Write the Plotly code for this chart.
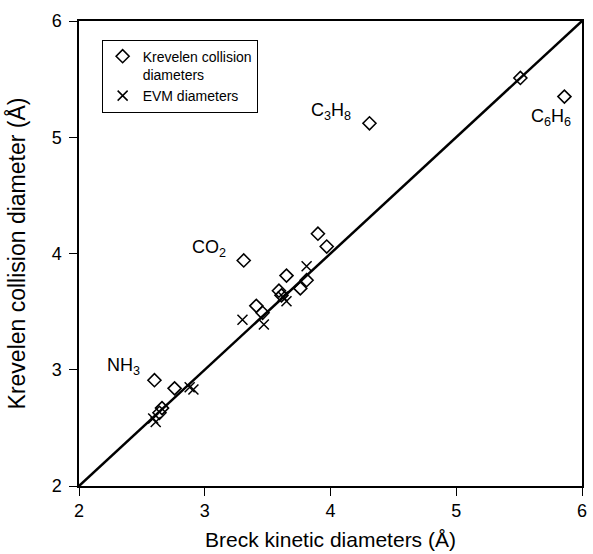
import plotly.graph_objects as go

# Krevelen collision diameters vs Breck kinetic diameters
krev_x = [2.60, 2.76, 2.66, 2.64, 3.31, 3.41, 3.46, 3.59, 3.61, 3.65, 3.76, 3.81, 3.90, 3.97, 4.31, 5.51, 5.86]
krev_y = [2.91, 2.84, 2.67, 2.63, 3.94, 3.55, 3.49, 3.68, 3.64, 3.81, 3.70, 3.77, 4.17, 4.06, 5.12, 5.51, 5.35]

# EVM diameters
evm_x = [2.59, 2.61, 2.88, 2.91, 3.30, 3.47, 3.62, 3.65, 3.81]
evm_y = [2.58, 2.55, 2.85, 2.83, 3.43, 3.39, 3.63, 3.59, 3.89]

# parity line
line_x = [2, 6]
line_y = [2, 6]

# molecule labels
label_text = ["NH<sub>3</sub>", "CO<sub>2</sub>", "C<sub>3</sub>H<sub>8</sub>", "C<sub>6</sub>H<sub>6</sub>"]
label_x = [2.35, 3.03, 4.00, 5.75]
label_y = [3.03, 4.04, 5.22, 5.17]

tick_vals = [2, 3, 4, 5, 6]

FONT = "Arial, Liberation Sans, sans-serif"

fig = go.Figure()
fig.add_trace(go.Scatter(x=line_x, y=line_y, mode="lines",
                         line=dict(color="black", width=2.5), showlegend=False,
                         hoverinfo="skip"))
fig.add_trace(go.Scatter(x=krev_x, y=krev_y, mode="markers",
                         name="Krevelen collision<br>diameters",
                         marker=dict(symbol="diamond-open", size=10, color="black",
                                     line=dict(width=1.6, color="black"))))
fig.add_trace(go.Scatter(x=evm_x, y=evm_y, mode="markers",
                         name="EVM diameters",
                         marker=dict(symbol="x-thin-open", size=10, color="black",
                                     line=dict(width=1.5, color="black"))))

for t, x, y in zip(label_text, label_x, label_y):
    fig.add_annotation(x=x, y=y, text=t, showarrow=False,
                       font=dict(family=FONT, size=18, color="black"),
                       xanchor="center", yanchor="middle")

axis_common = dict(range=[2, 6], tickvals=tick_vals, ticks="outside", ticklen=8,
                   tickwidth=1.2, tickcolor="black", showline=True, linecolor="black",
                   linewidth=1.5, mirror=True, showgrid=False, zeroline=False,
                   tickfont=dict(family=FONT, size=18, color="black"))

fig.update_xaxes(title=dict(text="Breck kinetic diameters (Å)",
                            font=dict(family=FONT, size=21, color="black"), standoff=12),
                 ticklabelstandoff=0, **axis_common)
fig.update_yaxes(title=dict(text="Krevelen collision diameter (Å)",
                            font=dict(family=FONT, size=23, color="black"), standoff=20),
                 ticklabelstandoff=4, **axis_common)

fig.update_layout(
    width=593, height=554,
    margin=dict(l=79, r=6, t=21, b=65),
    plot_bgcolor="white", paper_bgcolor="white",
    legend=dict(x=0.045, y=0.96, xanchor="left", yanchor="top",
                bordercolor="black", borderwidth=1, bgcolor="white",
                font=dict(family=FONT, size=14, color="black"),
                itemwidth=30, valign="top", tracegroupgap=0),
)

fig.write_html("out.html")
